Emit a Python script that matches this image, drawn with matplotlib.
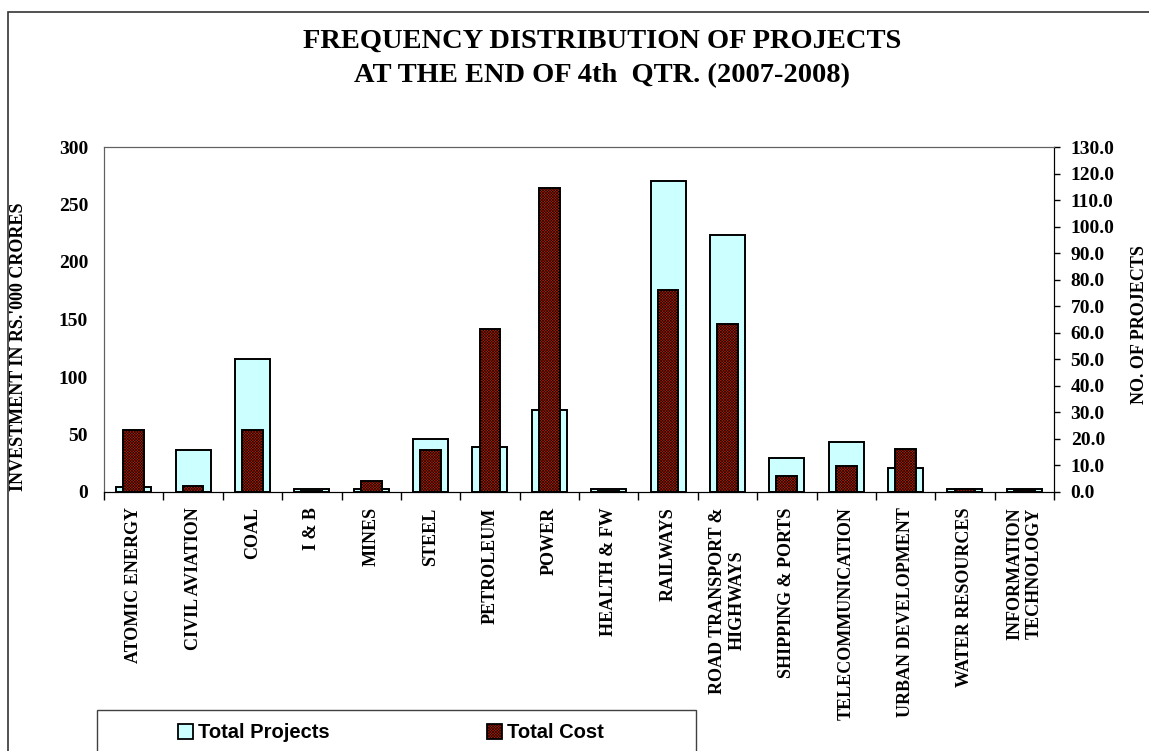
import matplotlib
matplotlib.use('Agg')
import matplotlib.pyplot as plt
import numpy as np
from matplotlib.patches import Patch, Rectangle

# values
sectors = ['ATOMIC ENERGY', 'CIVIL AVIATION', 'COAL', 'I & B', 'MINES', 'STEEL',
           'PETROLEUM', 'POWER', 'HEALTH & FW', 'RAILWAYS', 'ROAD TRANSPORT &\nHIGHWAYS',
           'SHIPPING & PORTS', 'TELECOMMUNICATION', 'URBAN DEVELOPMENT',
           'WATER RESOURCES', 'INFORMATION\nTECHNOLOGY']
total_projects = [2, 16, 50, 1, 1, 20, 17, 31, 1, 117, 97, 13, 19, 9, 1, 1]
total_cost = [53.5, 5.5, 53.5, 0.5, 9.3, 36.7, 142, 264, 0.5, 176, 146, 14, 23, 37, 3, 2]

left_ticks = [0, 50, 100, 150, 200, 250, 300]
right_ticks = list(range(0, 131, 10))

plt.rcParams['font.family'] = 'Liberation Serif'
plt.rcParams['font.weight'] = 'bold'
plt.rcParams['hatch.linewidth'] = 0.35

W, H = 1149, 751
fig = plt.figure(figsize=(W / 100, H / 100), dpi=100)
ax = fig.add_axes([104 / W, 1 - 492 / H, 950 / W, 345 / H])
ax2 = ax.twinx()

cyan = '#CCFFFF'
red = '#B81C00'
hatch = 'x' * 12
x = np.arange(len(sectors))
ax2.bar(x, total_projects, width=0.59, color=cyan, edgecolor='black', linewidth=1.4)
ax.bar(x, total_cost, width=0.35, color=red, edgecolor='black', linewidth=1.4, hatch=hatch)
ax.set_zorder(ax2.get_zorder() + 1)
ax.patch.set_visible(False)

ax.set_xlim(-0.5, len(sectors) - 0.5)
ax.set_ylim(0, 300)
ax2.set_ylim(0, 130)
ax.set_yticks(left_ticks)
ax2.set_yticks(right_ticks)
ax2.set_yticklabels([f'{v:.1f}' for v in right_ticks])

ax.set_xticks(x)
ax.set_xticklabels(sectors, rotation=90, ha='center', va='top', fontsize=13)
ax.set_xticks(np.arange(-0.5, len(sectors)), minor=True)
ax.tick_params(axis='x', which='major', length=0, pad=11)
ax.tick_params(axis='x', which='minor', length=6, width=1, direction='out')
ax.tick_params(axis='y', length=0, pad=11.5, labelsize=14)
ax2.tick_params(axis='y', length=4, width=1, direction='out', pad=8, labelsize=14)

for a in (ax, ax2):
    a.spines['left'].set_color('#606060')
    a.spines['top'].set_color('#606060')
    a.spines['right'].set_color('black')
    a.spines['bottom'].set_color('black')

ax.set_ylabel("INVESTMENT IN RS.'000 CRORES", fontsize=13, fontweight='bold')
ax.yaxis.set_label_coords(-0.081, 0.42)
ax2.set_ylabel('NO. OF PROJECTS', fontsize=13, fontweight='bold', rotation=90)
ax2.yaxis.set_label_coords(1.081, 0.484)

fig.text(602 / W, 1 - 48 / H, 'FREQUENCY DISTRIBUTION OF PROJECTS',
         ha='center', va='baseline', fontsize=20.5)
fig.text(602 / W, 1 - 82 / H, 'AT THE END OF 4th  QTR. (2007-2008)',
         ha='center', va='baseline', fontsize=20.5)

# outer chart border and legend box (both run off the bottom edge)
fig.add_artist(Rectangle((8 / W, -0.05), 1.1, 1 - 12 / H + 0.05, transform=fig.transFigure,
                         fill=False, edgecolor='#333333', linewidth=1.2, clip_on=False))
fig.add_artist(Rectangle((97 / W, -0.05), (696 - 97) / W, 1 - 710 / H + 0.05,
                         transform=fig.transFigure, fill=False, edgecolor='#404040',
                         linewidth=1, clip_on=False))

handles = [Patch(facecolor=cyan, edgecolor='black', linewidth=1.3, label='Total Projects'),
           Patch(facecolor=red, edgecolor='black', linewidth=1.3, hatch=hatch, label='Total Cost')]
fig.legend(handles=handles, loc='center left', bbox_to_anchor=(178 / W, 1 - 733 / H),
           ncol=2, frameon=False, prop={'family': 'Liberation Sans', 'weight': 'bold', 'size': 14.5},
           handlelength=0.75, handleheight=0.75, handletextpad=0.25, columnspacing=7.8,
           borderpad=0, borderaxespad=0)

fig.savefig('out.png', dpi=100)
